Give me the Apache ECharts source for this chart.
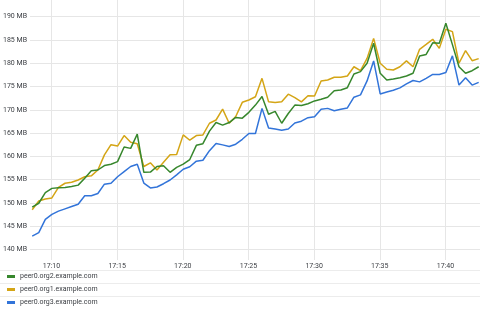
<!DOCTYPE html>
<html>
<head>
<meta charset="utf-8">
<script src="https://cdn.jsdelivr.net/npm/echarts@6/dist/echarts.min.js"></script>
<style>
html,body{margin:0;padding:0;background:#fff;}
#c{width:480px;height:309px;}
</style>
</head>
<body>
<div id="c"></div>
<script>
// time expressed as minutes after 17:00; samples every 30 s starting 17:08:32
var startMinute = 8 + 32/60;
var stepMinutes = 0.5;
var xTickLabels = ['17:10', '17:15', '17:20', '17:25', '17:30', '17:35', '17:40'];
var seriesNames = ['peer0.org2.example.com', 'peer0.org1.example.com', 'peer0.org3.example.com'];
var seriesColors = ['#37872D', '#D4A516', '#3274D9'];

var org2 = [149.05,149.9,152.2,153.1,153.25,153.3,153.5,153.8,155.3,156.9,157.05,158.0,158.3,158.85,162.0,161.7,164.75,156.55,156.6,157.8,
  157.95,156.55,157.6,158.3,159.3,162.35,162.7,165.4,167.25,166.7,167.25,168.35,168.2,169.45,171.0,172.85,169.05,169.65,167.1,169.2,
  171.0,170.9,171.3,171.9,172.25,172.7,174.1,174.25,174.75,177.7,178.2,180.0,184.3,177.85,176.4,176.6,176.9,177.25,177.85,181.55,
  181.9,184.4,184.3,188.6,184.0,179.25,177.85,178.4,179.25];
var org1 = [148.5,150.4,150.8,151.05,153.3,154.2,154.4,154.9,155.6,155.8,157.05,160.3,162.5,162.2,164.45,163.0,162.7,157.8,158.6,157.05,
  158.7,160.35,160.4,164.6,163.45,164.45,164.6,167.1,167.8,170.15,167.1,168.55,171.6,172.1,172.8,176.75,171.7,171.55,171.7,173.35,
  172.6,171.7,173.0,172.95,176.2,176.4,177.0,177.0,177.25,179.25,178.4,181.05,185.35,180.0,178.7,178.55,179.25,180.5,179.25,183.0,
  184.05,185.15,183.2,187.3,186.8,180.0,182.7,180.55,181.0];
var org3 = [142.85,143.6,146.45,147.5,148.2,148.7,149.2,149.7,151.5,151.5,152.0,154.0,154.2,155.6,156.7,157.8,158.3,154.25,153.2,153.4,
  154.1,154.9,156.0,157.2,157.75,158.95,159.15,161.2,162.75,162.45,162.1,162.6,163.65,164.9,164.9,170.3,166.1,165.85,165.6,165.85,
  167.15,167.55,168.3,168.5,170.1,170.3,169.8,170.1,170.4,172.7,173.2,176.2,180.5,173.4,173.8,174.2,174.7,175.55,176.3,176.0,
  176.75,177.6,177.6,178.0,181.6,175.3,176.9,175.3,175.9];
var seriesValues = [org2, org1, org3];

function pairs(vals){ return vals.map(function(v,i){ return [startMinute + i*stepMinutes, v]; }); }
function fmtX(v){
  var idx = Math.round((v - 10) / 5);
  return (idx >= 0 && idx < xTickLabels.length && Math.abs(v - (10 + idx*5)) < 1e-6) ? xTickLabels[idx] : '';
}

var chart = echarts.init(document.getElementById('c'), null, {renderer:'canvas'});
var txt = '#3a3d42';
chart.setOption({
  animation: false,
  backgroundColor: '#fff',
  textStyle: {fontFamily: 'Roboto'},
  grid: {left: 29.3, right: 0, top: 0, bottom: 49, containLabel: false},
  xAxis: {
    type: 'value',
    min: 8 + 22/60,
    max: 42 + 38/60,
    splitNumber: 7,
    axisLine: {show: false},
    axisTick: {show: false},
    axisLabel: {formatter: fmtX, color: txt, fontSize: 7, margin: 3, fontFamily: 'Roboto', showMinLabel: false, showMaxLabel: false},
    splitLine: {show: true, showMinLine: false, showMaxLine: false, lineStyle: {color: '#e6e6e6', width: 1}}
  },
  yAxis: {
    type: 'value',
    min: 137.7,
    max: 193.6,
    splitNumber: 11,
    axisLine: {show: false},
    axisTick: {show: false},
    axisLabel: {formatter: function(v){ return v + ' MB'; }, color: txt, fontSize: 7, margin: 3, fontFamily: 'Roboto', showMinLabel: false, showMaxLabel: false},
    splitLine: {show: true, showMinLine: false, showMaxLine: false, lineStyle: {color: '#e6e6e6', width: 1}}
  },
  legend: {
    orient: 'vertical',
    left: 7,
    top: 272.5,
    padding: 0,
    itemWidth: 8,
    itemHeight: 3,
    itemGap: 5,
    icon: 'rect',
    textStyle: {fontSize: 7, color: txt, lineHeight: 8, fontFamily: 'Roboto'},
    data: seriesNames
  },
  graphic: [
    {type: 'line', shape: {x1: 0, y1: 270.5, x2: 480, y2: 270.5}, style: {stroke: '#ececec', lineWidth: 1}},
    {type: 'line', shape: {x1: 0, y1: 283.5, x2: 480, y2: 283.5}, style: {stroke: '#ececec', lineWidth: 1}},
    {type: 'line', shape: {x1: 0, y1: 296.5, x2: 480, y2: 296.5}, style: {stroke: '#ececec', lineWidth: 1}}
  ],
  series: seriesNames.map(function(n, k){
    return {
      name: n,
      type: 'line',
      data: pairs(seriesValues[k]),
      showSymbol: false,
      symbol: 'none',
      color: seriesColors[k],
      lineStyle: {width: 1.5, color: seriesColors[k]},
      z: 3 - k
    };
  })
});
</script>
</body>
</html>
